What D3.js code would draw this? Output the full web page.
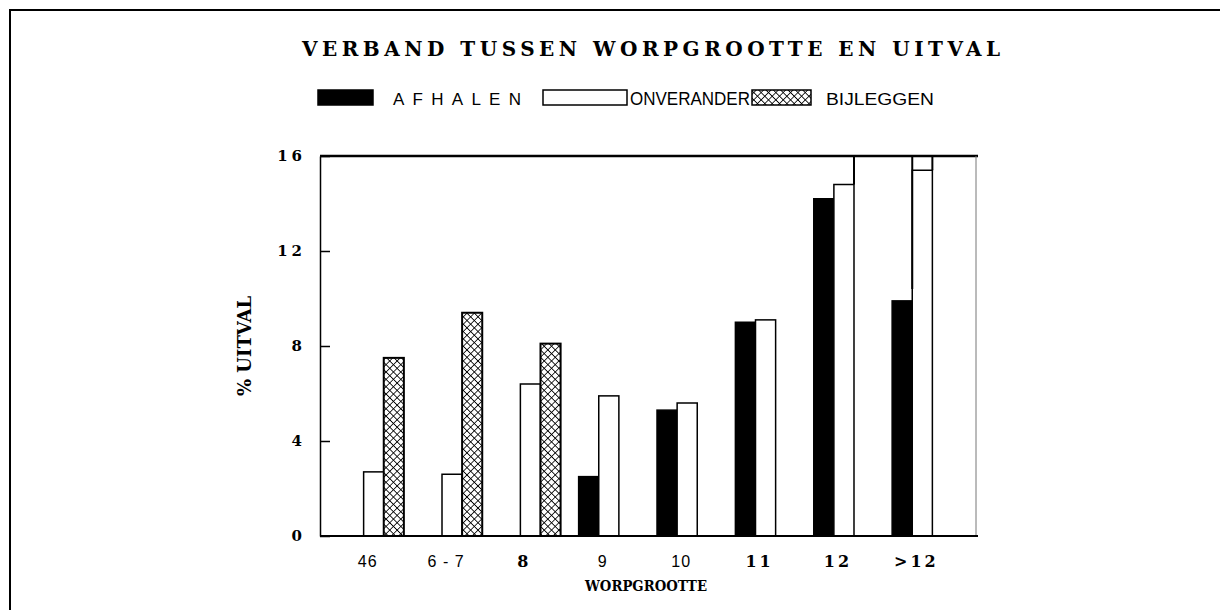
<!DOCTYPE html>
<html>
<head>
<meta charset="utf-8">
<script src="https://cdn.jsdelivr.net/npm/d3@7"></script>
<style>
  body { margin: 0; background: #fff; }
  svg { display: block; }
</style>
</head>
<body>
<div id="chart"></div>
<script>

// data
const categories = ["46", "6-7", "8", "9", "10", "11", "12", ">12"];
const series = ["AFHALEN", "ONVERANDER", "BIJLEGGEN"];
const afhalen = [0, 0, 0, 2.5, 5.3, 9.0, 14.2, 9.9];
const onverander = [2.7, 2.6, 6.4, 5.9, 5.6, 9.1, 14.8, 15.4];
const bijleggen = [7.5, 9.4, 8.1, 0, 0, 0, 0, 0];
const yTicks = [0, 4, 8, 12, 16];

const W = 1220, H = 610;
const plot = { left: 320, right: 976, top: 156, bottom: 536 };
const serif = "'DejaVu Serif', 'Liberation Serif', serif";
const sans = "'Liberation Sans', Arial, sans-serif";

const svg = d3.select("#chart").append("svg")
    .attr("width", W)
    .attr("height", H);

// crosshatch fill
const defs = svg.append("defs");
const pat = defs.append("pattern")
    .attr("id", "xhatch")
    .attr("patternUnits", "userSpaceOnUse")
    .attr("width", 5.2)
    .attr("height", 5.2)
    .attr("patternTransform", "rotate(45)");
pat.append("rect").attr("width", 5.2).attr("height", 5.2).attr("fill", "#fff");
pat.append("path").attr("d", "M0,0 H5.2 M0,0 V5.2")
    .attr("stroke", "#000").attr("stroke-width", 1.6);

// page frame (scanned border)
svg.append("path")
    .attr("d", `M10,${H} V10 H${W}`)
    .attr("fill", "none")
    .attr("stroke", "#000")
    .attr("stroke-width", 2);

// title
svg.append("text")
    .attr("x", 302)
    .attr("y", 56)
    .attr("textLength", 698)
    .attr("lengthAdjust", "spacing")
    .style("font-family", serif)
    .style("font-weight", "bold")
    .style("font-size", "20px")
    .text("VERBAND  TUSSEN  WORPGROOTTE  EN  UITVAL");

// legend
const legend = svg.append("g");
const legendFill = { AFHALEN: "#000", ONVERANDER: "#fff", BIJLEGGEN: "url(#xhatch)" };
const legendBox = [[318, 55], [543, 84], [752, 59]];
const legendText = [
    { x: 393, len: 128, font: sans, size: 17, adj: "spacing" },
    { x: 630, len: 120, font: sans, size: 18, adj: "spacingAndGlyphs" },
    { x: 826, len: 108, font: sans, size: 16, adj: "spacingAndGlyphs" }
];
series.forEach((s, i) => {
    legend.append("rect")
        .attr("x", legendBox[i][0])
        .attr("y", 90)
        .attr("width", legendBox[i][1])
        .attr("height", 15)
        .attr("fill", legendFill[s])
        .attr("stroke", "#000")
        .attr("stroke-width", 1.5);
    legend.append("text")
        .attr("x", legendText[i].x)
        .attr("y", 105)
        .attr("textLength", legendText[i].len)
        .attr("lengthAdjust", legendText[i].adj)
        .style("font-family", legendText[i].font)
        .style("font-size", legendText[i].size + "px")
        .text(s);
});

// scales
const x = d3.scaleBand()
    .domain(categories)
    .range([plot.left, plot.right])
    .paddingInner(0.23)
    .paddingOuter(0.3);

const xs = d3.scaleBand()
    .domain(series)
    .range([0, x.bandwidth()]);

const y = d3.scaleLinear()
    .domain([0, 16])
    .range([plot.bottom, plot.top]);

// bars
const rows = [];
categories.forEach((c, i) => {
    rows.push({ cat: c, s: "AFHALEN", v: afhalen[i] });
    rows.push({ cat: c, s: "ONVERANDER", v: onverander[i] });
    rows.push({ cat: c, s: "BIJLEGGEN", v: bijleggen[i] });
});

svg.append("g").selectAll("rect")
    .data(rows.filter(d => d.v > 0))
    .join("rect")
    .attr("x", d => x(d.cat) + xs(d.s))
    .attr("y", d => y(d.v))
    .attr("width", xs.bandwidth())
    .attr("height", d => y(0) - y(d.v))
    .attr("fill", d => legendFill[d.s])
    .attr("stroke", "#000")
    .attr("stroke-width", d => d.s === "BIJLEGGEN" ? 2 : 1.5);

// stray vertical strokes on the right-hand bars (as in the scan)
const stray = [
    { x: x("12") + xs("ONVERANDER") + xs.bandwidth(), y0: 14.8 },
    { x: x(">12") + xs("ONVERANDER"), y0: 10.4 },
    { x: x(">12") + xs("ONVERANDER") + xs.bandwidth(), y0: 15.4 }
];
svg.append("g").selectAll("line")
    .data(stray)
    .join("line")
    .attr("x1", d => d.x).attr("x2", d => d.x)
    .attr("y1", d => y(d.y0)).attr("y2", y(16))
    .attr("stroke", "#000")
    .attr("stroke-width", 2);

// frame of plot: top line, right thin line, baseline
svg.append("line")
    .attr("x1", plot.left).attr("x2", plot.right + 2)
    .attr("y1", y(16)).attr("y2", y(16))
    .attr("stroke", "#000").attr("stroke-width", 2.5);
svg.append("line")
    .attr("x1", plot.right).attr("x2", plot.right)
    .attr("y1", y(16)).attr("y2", y(0))
    .attr("stroke", "#777").attr("stroke-width", 1);
svg.append("line")
    .attr("x1", plot.left).attr("x2", plot.right + 2)
    .attr("y1", y(0)).attr("y2", y(0))
    .attr("stroke", "#000").attr("stroke-width", 2);

// y axis with inward ticks
const yAxis = svg.append("g")
    .attr("transform", `translate(${plot.left},0)`)
    .call(d3.axisLeft(y).tickValues(yTicks).tickSizeInner(-10).tickSizeOuter(0).tickPadding(14));
yAxis.select(".domain").attr("stroke-width", 1.5);
yAxis.selectAll(".tick line").attr("stroke-width", 1.5);
yAxis.selectAll(".tick text")
    .style("font-family", serif)
    .style("font-weight", "bold")
    .style("font-size", "15px")
    .style("letter-spacing", "4px");

svg.append("text")
    .attr("transform", `translate(251,${(plot.top + plot.bottom) / 2}) rotate(-90)`)
    .attr("text-anchor", "middle")
    .style("font-family", serif)
    .style("font-weight", "bold")
    .style("font-size", "18px")
    .text("% UITVAL");

// x axis labels
const boldTicks = new Set(["8", "11", "12", ">12"]);
const xAxis = svg.append("g")
    .attr("transform", `translate(0,${plot.bottom})`)
    .call(d3.axisBottom(x).tickSize(0).tickPadding(20));
xAxis.select(".domain").remove();
xAxis.selectAll(".tick text")
    .attr("dx", -6)
    .text(d => d === "6-7" ? "6 - 7" : d)
    .style("font-family", d => boldTicks.has(d) ? serif : sans)
    .style("font-weight", d => boldTicks.has(d) ? "bold" : "normal")
    .style("font-size", "16px")
    .style("letter-spacing", d => boldTicks.has(d) ? "3px" : "1px");

svg.append("text")
    .attr("x", 646)
    .attr("y", 591)
    .attr("text-anchor", "middle")
    .attr("textLength", 122)
    .attr("lengthAdjust", "spacingAndGlyphs")
    .style("font-family", serif)
    .style("font-weight", "bold")
    .style("font-size", "14px")
    .text("WORPGROOTTE");

</script>
</body>
</html>
